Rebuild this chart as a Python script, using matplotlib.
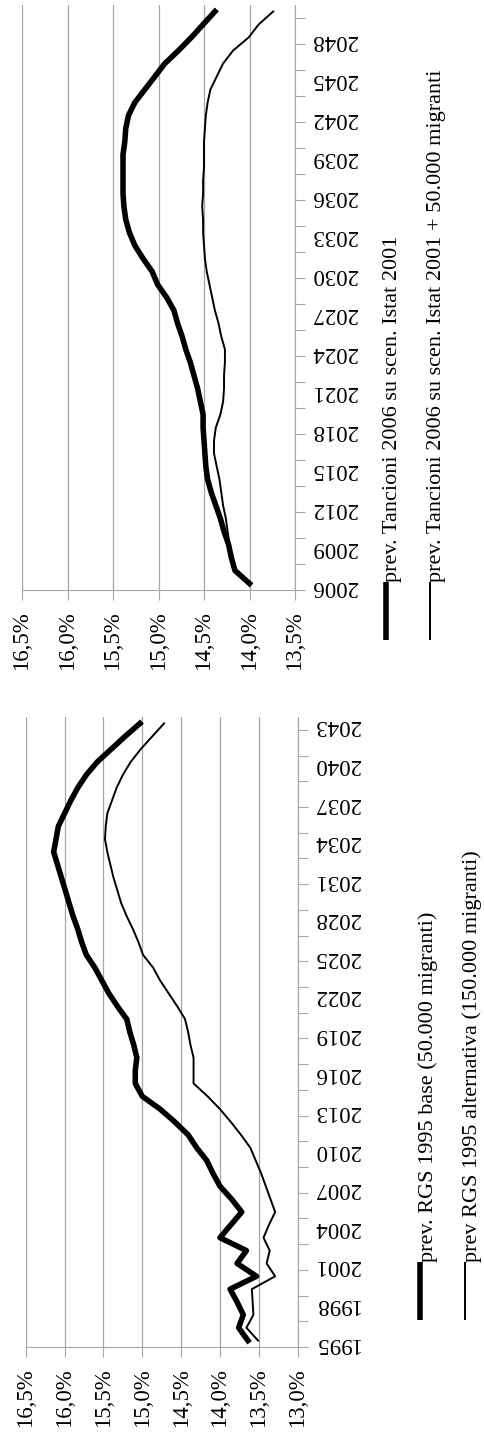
import numpy as np
import matplotlib
matplotlib.use("Agg")
import matplotlib.pyplot as plt
from matplotlib.lines import Line2D
from matplotlib.ticker import NullFormatter

plt.rcParams['font.family'] = ['Liberation Serif', 'DejaVu Serif']

# --- data -------------------------------------------------------------------
years_rgs = np.arange(1995, 2044)
rgs_base = [13.64, 13.76, 13.70, 13.78, 13.87, 13.53, 13.78, 13.66, 14.00, 13.86,
            13.72, 13.85, 14.00, 14.09, 14.17, 14.30, 14.41, 14.58, 14.77, 15.00,
            15.09, 15.09, 15.07, 15.11, 15.16, 15.20, 15.32, 15.43, 15.52, 15.61,
            15.72, 15.78, 15.83, 15.89, 15.94, 15.99, 16.04, 16.09, 16.14, 16.11,
            16.08, 16.00, 15.92, 15.83, 15.72, 15.58, 15.40, 15.22, 15.03]
rgs_alt = [13.51, 13.66, 13.57, 13.58, 13.59, 13.29, 13.40, 13.36, 13.44, 13.37,
           13.29, 13.35, 13.41, 13.47, 13.54, 13.61, 13.73, 13.86, 14.00, 14.16,
           14.34, 14.34, 14.34, 14.38, 14.41, 14.45, 14.55, 14.66, 14.77, 14.86,
           14.99, 15.05, 15.12, 15.20, 15.27, 15.32, 15.37, 15.41, 15.45, 15.48,
           15.47, 15.45, 15.39, 15.33, 15.25, 15.15, 15.02, 14.87, 14.72]

years_tan = np.arange(2006, 2051)
tan_istat = [14.00, 14.16, 14.20, 14.23, 14.28, 14.32, 14.37, 14.42, 14.46, 14.48,
             14.49, 14.50, 14.51, 14.51, 14.54, 14.57, 14.61, 14.65, 14.70, 14.74,
             14.79, 14.83, 14.91, 15.01, 15.07, 15.17, 15.26, 15.32, 15.36, 15.38,
             15.39, 15.39, 15.39, 15.39, 15.37, 15.36, 15.33, 15.26, 15.15, 15.04,
             14.93, 14.78, 14.64, 14.51, 14.38]
tan_migr = [14.00, 14.16, 14.20, 14.22, 14.24, 14.26, 14.29, 14.31, 14.33, 14.36,
            14.39, 14.39, 14.37, 14.32, 14.29, 14.28, 14.28, 14.27, 14.27, 14.31,
            14.34, 14.38, 14.41, 14.44, 14.47, 14.49, 14.50, 14.51, 14.51, 14.52,
            14.51, 14.51, 14.50, 14.50, 14.50, 14.49, 14.48, 14.46, 14.43, 14.36,
            14.29, 14.18, 14.01, 13.90, 13.74]

lab_rgs = ["prev. RGS 1995 base (50.000 migranti)",
           "prev RGS 1995 alternativa (150.000 migranti)"]
lab_tan = ["prev. Tancioni 2006 su scen. Istat 2001",
           "prev. Tancioni 2006 su scen. Istat 2001 + 50.000 migranti"]

# --- layout -----------------------------------------------------------------
W, H = 484, 1436
fig = plt.figure(figsize=(W / 100, H / 100), dpi=100)
GRID = "#a6a6a6"
FS = 16.5
FS_LEG = 16
THICK, THIN = 4.0, 1.4


def px_axes(x0, y0, x1, y1):
    return fig.add_axes([x0 / W, 1 - y1 / H, (x1 - x0) / W, (y1 - y0) / H])


def setup(ax, years, vmin, vmax):
    ax.set_xlim(vmax, vmin)
    ax.set_ylim(years[0] - 0.5, years[-1] + 0.5)
    pcts = np.arange(vmin, vmax + 0.01, 0.5)
    ax.set_xticks(pcts)
    ax.set_xticklabels([f"{p:.1f}%".replace(".", ",") for p in pcts], rotation=90, fontsize=FS)
    ax.xaxis.grid(True, color=GRID, lw=0.9)
    ax.tick_params(axis="x", length=7, color=GRID, pad=8)
    ax.yaxis.tick_right()
    ax.set_yticks(np.arange(years[0] - 0.5, years[-1] + 0.5, 2))
    ax.yaxis.set_major_formatter(NullFormatter())
    ax.set_yticks(years[::3], minor=True)
    ax.set_yticklabels([str(y) for y in years[::3]], minor=True, fontsize=FS)
    ax.tick_params(axis="y", which="major", length=7, color=GRID)
    ax.tick_params(axis="y", which="minor", length=0, pad=12, labelrotation=180)
    for s in ("left", "top"):
        ax.spines[s].set_visible(False)
    for s in ("right", "bottom"):
        ax.spines[s].set_color(GRID)
    ax.set_axisbelow(True)


def legend(x_bars, x_txt, y0, y1, labels):
    for xb, xt, lw, lab in zip(x_bars, x_txt, (THICK, THIN), labels):
        fig.add_artist(Line2D([xb / W, xb / W], [1 - y1 / H, 1 - y0 / H],
                              transform=fig.transFigure, color="black", lw=lw,
                              solid_capstyle="butt"))
        fig.text(xt / W, 1 - y0 / H, lab, rotation=90, rotation_mode="anchor",
                 ha="left", va="center", fontsize=FS_LEG)


# upper chart: Tancioni 2006
ax1 = px_axes(22, 5, 295, 590)
setup(ax1, years_tan, 13.5, 16.5)
ax1.plot(tan_istat, years_tan, color="black", lw=THICK, solid_joinstyle="round")
ax1.plot(tan_migr, years_tan, color="black", lw=THIN, solid_joinstyle="round")
legend((385.5, 430), (393, 437), 582, 640, lab_tan)

# lower chart: RGS 1995
ax2 = px_axes(25.7, 717, 297.7, 1347)
setup(ax2, years_rgs, 13.0, 16.5)
ax2.plot(rgs_base, years_rgs, color="black", lw=THICK, solid_joinstyle="round")
ax2.plot(rgs_alt, years_rgs, color="black", lw=THIN, solid_joinstyle="round")
legend((420, 465), (428, 472), 1262, 1320, lab_rgs)

fig.savefig("out.png", dpi=100)
